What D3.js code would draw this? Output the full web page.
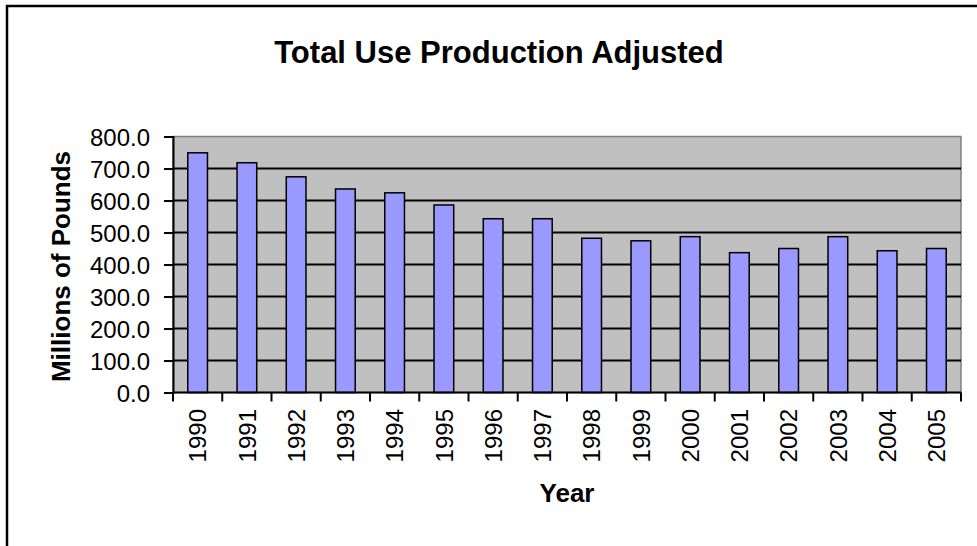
<!DOCTYPE html>
<html lang="en">
<head>
  <meta charset="UTF-8">
  <title>Total Use Production Adjusted</title>
  <script src="https://cdn.jsdelivr.net/npm/d3@7/dist/d3.min.js"></script>
</head>
<style>
  body {
    margin: 0;
    background: #fff;
  }
  svg {
    display: block;
    font-family: Arial, "Liberation Sans", sans-serif;
  }
</style>
<body>
<svg width="977" height="546"></svg>
<script>
  // values
  const years = ['1990', '1991', '1992', '1993', '1994', '1995', '1996', '1997',
    '1998', '1999', '2000', '2001', '2002', '2003', '2004', '2005'];
  const production = [749, 718, 674, 636, 624, 586, 543, 543,
    482, 474, 487, 437, 450, 487, 443, 450];
  const yTicks = [0, 100, 200, 300, 400, 500, 600, 700, 800];

  const svg = d3.select('svg');

  const plot = {left: 173, right: 961, top: 136.5, bottom: 392.5};

  // outer chart frame (only left and top edges are visible)
  svg.append('rect')
    .attr('x', 7).attr('y', 6)
    .attr('width', 1000).attr('height', 600)
    .attr('fill', 'none')
    .attr('stroke', '#000')
    .attr('stroke-width', 2.5);

  const x = d3.scaleBand()
    .domain(years)
    .range([plot.left, plot.right])
    .paddingInner(0.6)
    .paddingOuter(0.3);

  const edge = d3.scaleLinear()
    .domain([0, years.length])
    .range([plot.left, plot.right]);

  const y = d3.scaleLinear()
    .domain([0, 800])
    .range([plot.bottom, plot.top]);

  // plot area
  svg.append('rect')
    .attr('x', plot.left).attr('y', plot.top)
    .attr('width', plot.right - plot.left)
    .attr('height', plot.bottom - plot.top)
    .attr('fill', '#c0c0c0')
    .attr('stroke', '#808080')
    .attr('stroke-width', 1.5);

  // gridlines
  svg.append('g')
    .selectAll('line')
    .data(yTicks.filter(d => d > 0 && d < 800))
    .enter().append('line')
    .attr('x1', plot.left).attr('x2', plot.right)
    .attr('y1', d => y(d)).attr('y2', d => y(d))
    .attr('stroke', '#000')
    .attr('stroke-width', 2);

  // bars
  svg.append('g')
    .selectAll('rect')
    .data(production)
    .enter().append('rect')
    .attr('x', (d, i) => x(years[i]))
    .attr('y', d => y(d))
    .attr('width', x.bandwidth())
    .attr('height', d => y(0) - y(d))
    .attr('fill', '#9999ff')
    .attr('stroke', '#000')
    .attr('stroke-width', 1.5);

  // y axis
  const yAxis = svg.append('g')
    .attr('transform', `translate(${plot.left},0)`)
    .call(d3.axisLeft(y).tickValues(yTicks).tickFormat(d3.format('.1f')).tickSize(9).tickPadding(14));
  yAxis.select('.domain').attr('stroke', '#000').attr('stroke-width', 2);
  yAxis.selectAll('.tick line').attr('stroke', '#000').attr('stroke-width', 2);
  yAxis.selectAll('.tick text')
    .attr('font-size', 24)
    .attr('font-family', 'Arial, "Liberation Sans", sans-serif')
    .attr('fill', '#000')
    .attr('dy', '0.36em');

  // x axis line and boundary ticks
  svg.append('line')
    .attr('x1', plot.left).attr('x2', plot.right)
    .attr('y1', plot.bottom).attr('y2', plot.bottom)
    .attr('stroke', '#000')
    .attr('stroke-width', 2);

  svg.append('g')
    .selectAll('line')
    .data(d3.range(years.length + 1))
    .enter().append('line')
    .attr('x1', d => edge(d)).attr('x2', d => edge(d))
    .attr('y1', plot.bottom).attr('y2', plot.bottom + 9)
    .attr('stroke', '#000')
    .attr('stroke-width', 2);

  // rotated year labels
  svg.append('g')
    .selectAll('text')
    .data(years)
    .enter().append('text')
    .attr('transform', d => `translate(${x(d) + x.bandwidth() / 2},409) rotate(-90)`)
    .attr('text-anchor', 'end')
    .attr('dy', '0.36em')
    .attr('font-size', 24)
    .text(d => d);

  // titles
  svg.append('text')
    .attr('x', 499).attr('y', 63)
    .attr('text-anchor', 'middle')
    .attr('font-size', 31)
    .attr('font-weight', 'bold')
    .text('Total Use Production Adjusted');

  svg.append('text')
    .attr('x', (plot.left + plot.right) / 2).attr('y', 502)
    .attr('text-anchor', 'middle')
    .attr('font-size', 26)
    .attr('font-weight', 'bold')
    .text('Year');

  svg.append('text')
    .attr('transform', `translate(70,${(plot.top + plot.bottom) / 2 + 2}) rotate(-90)`)
    .attr('text-anchor', 'middle')
    .attr('font-size', 26)
    .attr('font-weight', 'bold')
    .text('Millions of Pounds');
</script>
</body>
</html>
